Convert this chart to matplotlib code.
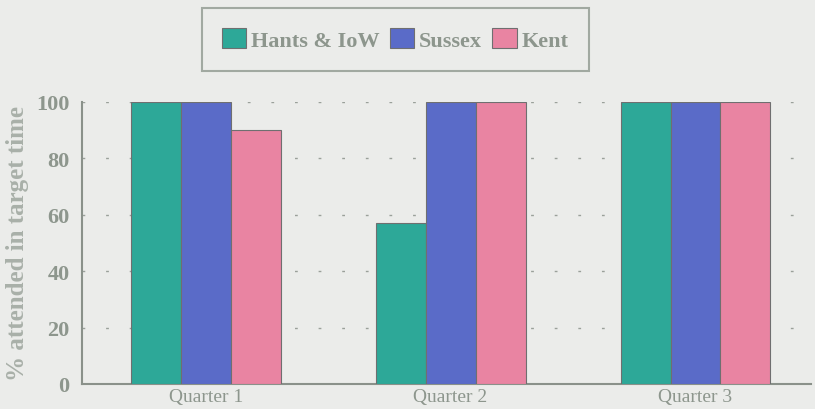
import matplotlib
matplotlib.use("Agg")
import matplotlib.pyplot as plt
import numpy as np

categories = ["Quarter 1", "Quarter 2", "Quarter 3"]
series_names = ["Hants & IoW", "Sussex", "Kent"]
hants = [100, 57, 100]
sussex = [100, 100, 100]
kent = [90, 100, 100]
yticks = [0, 20, 40, 60, 80, 100]
ylabel = "% attended in target time"

colors = ["#2da898", "#5a6bc8", "#e984a2"]
bg = "#ebecea"
txt = "#8d968d"

fig = plt.figure(figsize=(8.15, 4.10), dpi=100, facecolor=bg)
ax = fig.add_axes([0.1006, 0.061, 0.894, 0.688], facecolor=bg)

x = np.arange(len(categories))
w = 0.204
for i, (vals, name) in enumerate(zip([hants, sussex, kent], series_names)):
    ax.bar(x + (i - 1) * w, vals, width=w, color=colors[i], edgecolor="#6f6f70",
           linewidth=0.8, label=name, zorder=3)

ax.set_xlim(-0.505, 2.47)
ax.set_ylim(0, 100)
ax.set_yticks(yticks)
ax.set_xticks(x)
ax.set_xticklabels(categories, fontfamily="Liberation Serif", fontsize=14, color=txt)
for lab in ax.get_yticklabels():
    lab.set_fontfamily("Liberation Serif")
    lab.set_fontweight("bold")
    lab.set_fontsize(16)
    lab.set_color(txt)
ax.tick_params(axis="both", length=0)
ax.tick_params(axis="y", pad=9)
ax.tick_params(axis="x", pad=3)

for yv in yticks[1:]:
    ax.axhline(yv, color="#9aa09a", linewidth=1.0, linestyle=(0, (2, 15)), zorder=1)

for s in ["top", "right"]:
    ax.spines[s].set_visible(False)
for s in ["left", "bottom"]:
    ax.spines[s].set_color("#8a918a")
    ax.spines[s].set_linewidth(1.5)

ax.set_ylabel(ylabel, fontfamily="Liberation Serif", fontweight="bold", fontsize=18,
              color="#a9b0a9", labelpad=5)

leg = fig.legend(loc="upper left", bbox_to_anchor=(202 / 815, 1 - 9 / 410), ncol=3,
                 frameon=True, fancybox=False, handlelength=1.1, handleheight=1.0,
                 handletextpad=0.22, columnspacing=0.45, borderpad=0.9, borderaxespad=0,
                 prop={"family": "Liberation Serif", "weight": "bold", "size": 16})
leg.get_frame().set_facecolor(bg)
leg.get_frame().set_edgecolor("#8f988f")
leg.get_frame().set_linewidth(1.5)
for t in leg.get_texts():
    t.set_color(txt)

fig.savefig("out.png", dpi=100, facecolor=bg)
